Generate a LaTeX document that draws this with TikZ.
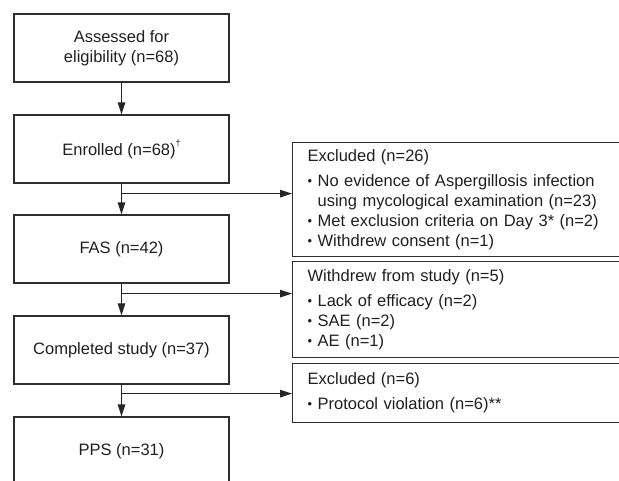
\documentclass[tikz,border=0pt]{standalone}
\usepackage{fontspec}
\setmainfont{Liberation Sans}
\usetikzlibrary{arrows.meta}
\newcommand\bul{\raisebox{0.08em}{\scalebox{0.78}{•}}\ }
\newcommand\bulsp{\phantom{\bul}}
\begin{document}
\begin{tikzpicture}[x=1pt,y=-1pt,
  font=\fontsize{16.5}{20}\selectfont,
  every node/.style={text=black!88},
  lbox/.style={draw=black!82, line width=1.25pt, minimum width=215pt, minimum height=68pt, align=center, inner sep=0pt},
  rbox/.style={draw=black!82, line width=1.25pt, anchor=north west, minimum width=360pt, align=left, text width=330pt, inner xsep=14.5pt, inner ysep=0pt},
  arr/.style={draw=black!85, line width=1pt, -{Triangle[length=12pt,width=7.5pt]}}]
\useasboundingbox (0,0) rectangle (619,481);
\node[lbox] (a) at (121.5,48) {Assessed for\\eligibility (n=68)};
\node[lbox] (b) at (121.5,149) {Enrolled (n=68)\raisebox{0.55em}{\fontsize{9}{9}\selectfont †}};
\node[lbox] (c) at (121.5,249) {FAS (n=42)};
\node[lbox] (d) at (121.5,350) {Completed study (n=37)};
\node[lbox] (e) at (121.5,451) {PPS (n=31)};
\node[rbox, minimum height=114pt] (r1) at (292,142) {Excluded (n=26)\\[5pt]
  \bul No evidence of Aspergillosis infection\\
  \bulsp using mycological examination (n=23)\\
  \bul Met exclusion criteria on Day 3* (n=2)\\
  \bul Withdrew consent (n=1)};
\node[rbox, minimum height=96pt] (r2) at (292,261) {Withdrew from study (n=5)\\[5pt]
  \bul Lack of efficacy (n=2)\\
  \bul SAE (n=2)\\
  \bul AE (n=1)};
\node[rbox, minimum height=59pt] (r3) at (292,363) {Excluded (n=6)\\[5pt]
  \bul Protocol violation (n=6)**};
\draw[arr] (a.south) -- (b.north);
\draw[arr] (b.south) -- (c.north);
\draw[arr] (c.south) -- (d.north);
\draw[arr] (d.south) -- (e.north);
\coordinate (j1) at ([yshift=-10pt]b.south);
\coordinate (j2) at ([yshift=-10pt]c.south);
\coordinate (j3) at ([yshift=-9pt]d.south);
\draw[arr] (j1) -- (j1 -| r1.west);
\draw[arr] (j2) -- (j2 -| r2.west);
\draw[arr] (j3) -- (j3 -| r3.west);
\end{tikzpicture}
\end{document}
